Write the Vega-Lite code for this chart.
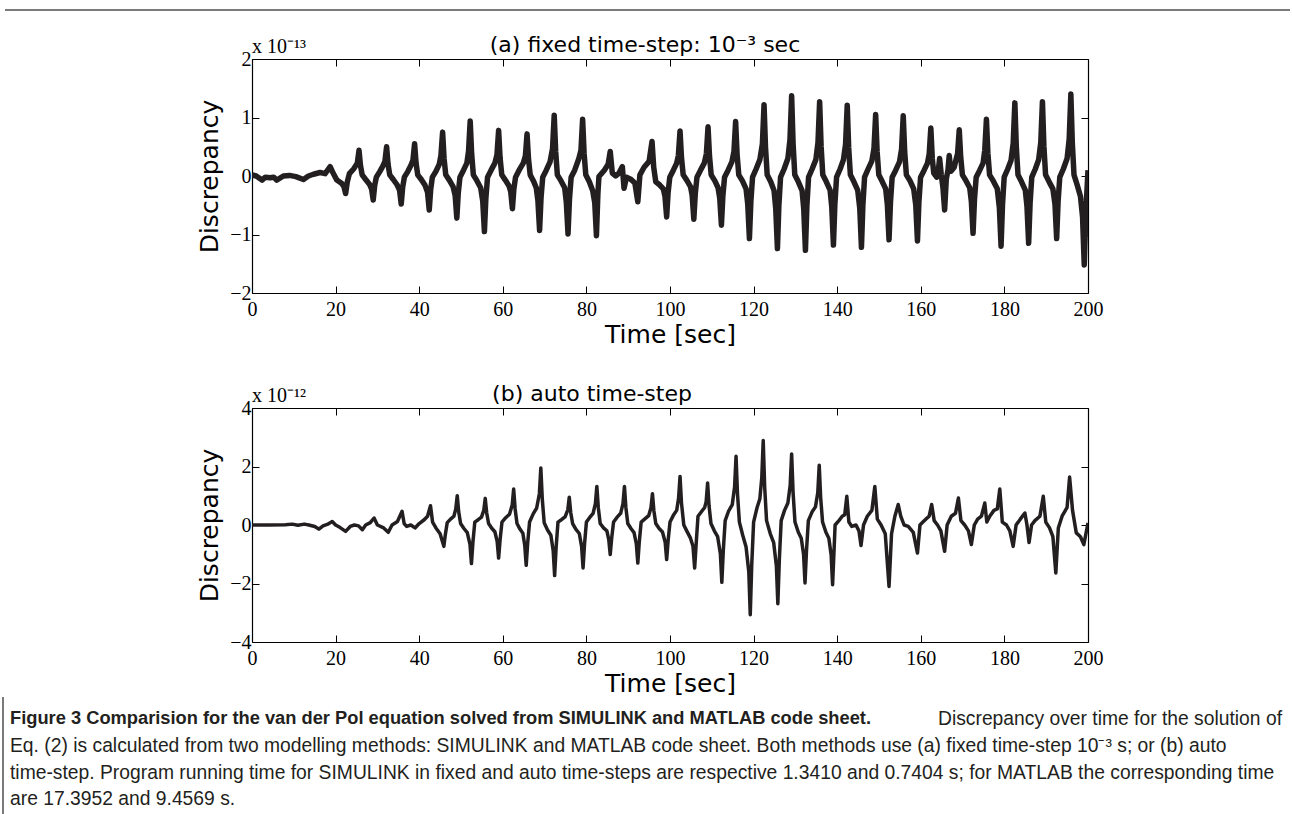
{
  "$schema": "https://vega.github.io/schema/vega-lite/v6.json",
  "padding": {"left": 2, "top": 9, "right": 0, "bottom": 0},
  "background": "white",
  "config": {"view": {"stroke": null}, "font": "DejaVu Sans"},
  "bounds": "flush",
  "spacing": 115,
  "datasets": {
    "fixed": [
      {"t":0,"v":0.02},{"t":1,"v":0},{"t":2.4,"v":-0.07},{"t":3.2,"v":-0.02},{"t":4.3,"v":-0.03},{"t":5.2,"v":-0.02},{"t":5.9,"v":-0.07},{"t":7.5,"v":0},{"t":9,"v":0.01},{"t":10.5,"v":-0.01},{"t":12.3,"v":-0.06},{"t":13.5,"v":0},{"t":14.7,"v":0.03},{"t":16.3,"v":0.06},{"t":17.5,"v":0.04},{"t":18.7,"v":0.16},{"t":19.4,"v":0.05},{"t":20.3,"v":-0.07},{"t":21.5,"v":-0.13},{"t":22,"v":-0.18},{"t":22.4,"v":-0.3},{"t":22.8,"v":-0.1},{"t":23.3,"v":0.04},{"t":24.3,"v":0.12},{"t":25.2,"v":0.22},{"t":25.6,"v":0.44},
      {"t":25.95,"v":0.18},{"t":26.35,"v":0.02},{"t":27.2,"v":-0.06},{"t":28.1,"v":-0.14},{"t":28.6,"v":-0.22},{"t":29,"v":-0.41},
      {"t":29.35,"v":-0.16},{"t":29.75,"v":-0.02},{"t":30.6,"v":0.08},{"t":31.3,"v":0.17},{"t":31.8,"v":0.25},{"t":32.2,"v":0.5},
      {"t":32.55,"v":0.2},{"t":32.95,"v":0.02},{"t":33.8,"v":-0.06},{"t":34.7,"v":-0.15},{"t":35.3,"v":-0.24},{"t":35.7,"v":-0.48},
      {"t":36.05,"v":-0.19},{"t":36.45,"v":-0.02},{"t":37.3,"v":0.08},{"t":38,"v":0.18},{"t":38.5,"v":0.27},{"t":38.9,"v":0.55},
      {"t":39.25,"v":0.22},{"t":39.65,"v":0.02},{"t":40.5,"v":-0.06},{"t":41.4,"v":-0.16},{"t":42,"v":-0.28},{"t":42.4,"v":-0.58},
      {"t":42.75,"v":-0.23},{"t":43.15,"v":-0.02},{"t":44,"v":0.08},{"t":44.8,"v":0.2},{"t":45.2,"v":0.35},{"t":45.6,"v":0.75},
      {"t":45.95,"v":0.3},{"t":46.35,"v":0.02},{"t":47.2,"v":-0.07},{"t":48.1,"v":-0.18},{"t":48.6,"v":-0.33},{"t":49,"v":-0.72},
      {"t":49.35,"v":-0.29},{"t":49.75,"v":-0.02},{"t":50.6,"v":0.1},{"t":51.4,"v":0.22},{"t":51.8,"v":0.42},{"t":52.2,"v":0.94},
      {"t":52.55,"v":0.38},{"t":52.95,"v":0.02},{"t":53.8,"v":-0.08},{"t":54.7,"v":-0.2},{"t":55.2,"v":-0.43},{"t":55.6,"v":-0.95},
      {"t":55.95,"v":-0.38},{"t":56.35,"v":-0.02},{"t":57.2,"v":0.1},{"t":58.1,"v":0.22},{"t":58.6,"v":0.36},{"t":59,"v":0.78},
      {"t":59.35,"v":0.31},{"t":59.75,"v":0.02},{"t":60.6,"v":-0.07},{"t":61.5,"v":-0.17},{"t":61.9,"v":-0.27},{"t":62.3,"v":-0.56},
      {"t":62.65,"v":-0.22},{"t":63.05,"v":-0.02},{"t":63.9,"v":0.1},{"t":64.9,"v":0.22},{"t":65.4,"v":0.34},{"t":65.8,"v":0.72},
      {"t":66.15,"v":0.29},{"t":66.55,"v":0.02},{"t":67.3,"v":-0.08},{"t":68,"v":-0.2},{"t":68.4,"v":-0.42},{"t":68.8,"v":-0.93},
      {"t":69.15,"v":-0.37},{"t":69.55,"v":-0.02},{"t":70.4,"v":0.1},{"t":71.3,"v":0.24},{"t":71.9,"v":0.47},{"t":72.3,"v":1.04},
      {"t":72.65,"v":0.42},{"t":73.05,"v":0.02},{"t":73.9,"v":-0.08},{"t":74.8,"v":-0.2},{"t":75.2,"v":-0.45},{"t":75.6,"v":-0.99},
      {"t":75.95,"v":-0.4},{"t":76.35,"v":-0.02},{"t":77.2,"v":0.1},{"t":78.2,"v":0.3},{"t":78.7,"v":0.44},{"t":79.1,"v":0.97},
      {"t":79.45,"v":0.39},{"t":79.85,"v":0.02},{"t":80.7,"v":-0.1},{"t":81.5,"v":-0.25},{"t":82,"v":-0.46},{"t":82.4,"v":-1.02},
      {"t":82.75,"v":-0.3},{"t":83,"v":-0.01},{"t":84.3,"v":0.1},{"t":85.2,"v":0.2},{"t":85.7,"v":0.42},{"t":86.2,"v":0.05},{"t":87,"v":0},{"t":87.8,"v":0.05},{"t":88.6,"v":0.16},{"t":89,"v":-0.21},{"t":89.6,"v":-0.02},{"t":90.5,"v":-0.05},{"t":91.6,"v":-0.12},{"t":92.3,"v":-0.44},{"t":92.8,"v":0.02},{"t":93.8,"v":0.15},{"t":95,"v":0.25},{"t":95.7,"v":0.59},{"t":96.1,"v":0.15},{"t":96.6,"v":-0.1},{"t":97.5,"v":-0.15},{"t":98.4,"v":-0.22},{"t":98.8,"v":-0.35},{"t":99.2,"v":-0.7},
      {"t":99.55,"v":-0.28},{"t":99.95,"v":-0.02},{"t":100.8,"v":0.1},{"t":101.6,"v":0.22},{"t":102,"v":0.35},{"t":102.4,"v":0.77},
      {"t":102.75,"v":0.31},{"t":103.15,"v":0.02},{"t":104,"v":-0.07},{"t":104.9,"v":-0.18},{"t":105.3,"v":-0.33},{"t":105.7,"v":-0.74},
      {"t":106.05,"v":-0.3},{"t":106.45,"v":-0.02},{"t":107.3,"v":0.1},{"t":108.2,"v":0.22},{"t":108.7,"v":0.38},{"t":109.1,"v":0.84},
      {"t":109.45,"v":0.34},{"t":109.85,"v":0.02},{"t":110.7,"v":-0.08},{"t":111.5,"v":-0.2},{"t":111.9,"v":-0.38},{"t":112.3,"v":-0.84},
      {"t":112.65,"v":-0.34},{"t":113.05,"v":-0.02},{"t":113.9,"v":0.1},{"t":114.8,"v":0.24},{"t":115.3,"v":0.42},{"t":115.7,"v":0.93},
      {"t":116.05,"v":0.37},{"t":116.45,"v":0.02},{"t":117.3,"v":-0.08},{"t":118.2,"v":-0.22},{"t":118.6,"v":-0.48},{"t":119,"v":-1.07},
      {"t":119.35,"v":-0.43},{"t":119.75,"v":-0.02},{"t":120.6,"v":0.12},{"t":121.5,"v":0.28},{"t":122.1,"v":0.55},{"t":122.5,"v":1.22},
      {"t":122.85,"v":0.49},{"t":123.25,"v":0.02},{"t":124.1,"v":-0.1},{"t":124.9,"v":-0.25},{"t":125.3,"v":-0.56},{"t":125.7,"v":-1.24},
      {"t":126.05,"v":-0.5},{"t":126.45,"v":-0.02},{"t":127.3,"v":0.12},{"t":128.2,"v":0.3},{"t":128.7,"v":0.62},{"t":129.1,"v":1.37},
      {"t":129.45,"v":0.55},{"t":129.85,"v":0.02},{"t":130.7,"v":-0.1},{"t":131.6,"v":-0.25},{"t":132,"v":-0.57},{"t":132.4,"v":-1.27},
      {"t":132.75,"v":-0.51},{"t":133.15,"v":-0.02},{"t":134,"v":0.12},{"t":134.9,"v":0.28},{"t":135.4,"v":0.57},{"t":135.8,"v":1.27},
      {"t":136.15,"v":0.51},{"t":136.55,"v":0.02},{"t":137.4,"v":-0.1},{"t":138.3,"v":-0.24},{"t":138.7,"v":-0.53},{"t":139.1,"v":-1.18},
      {"t":139.45,"v":-0.47},{"t":139.85,"v":-0.02},{"t":140.7,"v":0.12},{"t":141.5,"v":0.28},{"t":142,"v":0.54},{"t":142.4,"v":1.21},
      {"t":142.75,"v":0.48},{"t":143.15,"v":0.02},{"t":144,"v":-0.1},{"t":144.9,"v":-0.24},{"t":145.4,"v":-0.55},{"t":145.8,"v":-1.22},
      {"t":146.15,"v":-0.49},{"t":146.55,"v":-0.02},{"t":147.4,"v":0.12},{"t":148.3,"v":0.26},{"t":148.8,"v":0.47},{"t":149.2,"v":1.05},
      {"t":149.55,"v":0.42},{"t":149.95,"v":0.02},{"t":150.8,"v":-0.1},{"t":151.6,"v":-0.22},{"t":152,"v":-0.49},{"t":152.4,"v":-1.09},
      {"t":152.75,"v":-0.44},{"t":153.15,"v":-0.02},{"t":154,"v":0.1},{"t":154.9,"v":0.24},{"t":155.4,"v":0.46},{"t":155.8,"v":1.03},
      {"t":156.15,"v":0.41},{"t":156.55,"v":0.02},{"t":157.4,"v":-0.08},{"t":158.3,"v":-0.22},{"t":158.8,"v":-0.5},{"t":159.2,"v":-1.11},
      {"t":159.55,"v":-0.44},{"t":159.95,"v":-0.02},{"t":160.8,"v":0.1},{"t":161.6,"v":0.22},{"t":162,"v":0.37},{"t":162.4,"v":0.82},
      {"t":162.75,"v":0.3},{"t":163.1,"v":0.05},{"t":163.8,"v":-0.02},{"t":164.2,"v":0.1},{"t":164.5,"v":0.3},{"t":164.9,"v":0.02},{"t":165.3,"v":-0.2},{"t":165.7,"v":-0.58},{"t":166.1,"v":-0.05},{"t":166.5,"v":0.1},{"t":166.8,"v":0.35},{"t":167.2,"v":0.08},{"t":168,"v":0.15},{"t":168.5,"v":0.3},{"t":168.8,"v":0.38},{"t":169.2,"v":0.79},
      {"t":169.55,"v":0.32},{"t":169.95,"v":0.02},{"t":170.8,"v":-0.08},{"t":171.7,"v":-0.2},{"t":172.1,"v":-0.44},{"t":172.5,"v":-0.98},
      {"t":172.85,"v":-0.39},{"t":173.25,"v":-0.02},{"t":174.1,"v":0.1},{"t":174.9,"v":0.22},{"t":175.3,"v":0.44},{"t":175.7,"v":0.97},
      {"t":176.05,"v":0.39},{"t":176.45,"v":0.02},{"t":177.3,"v":-0.08},{"t":178.3,"v":-0.22},{"t":178.8,"v":-0.54},{"t":179.2,"v":-1.2},
      {"t":179.55,"v":-0.48},{"t":179.95,"v":-0.02},{"t":180.8,"v":0.12},{"t":181.6,"v":0.27},{"t":182.1,"v":0.56},{"t":182.5,"v":1.25},
      {"t":182.85,"v":0.5},{"t":183.25,"v":0.02},{"t":184.1,"v":-0.1},{"t":185,"v":-0.24},{"t":185.4,"v":-0.52},{"t":185.8,"v":-1.15},
      {"t":186.15,"v":-0.46},{"t":186.55,"v":-0.02},{"t":187.4,"v":0.12},{"t":188.2,"v":0.28},{"t":188.7,"v":0.57},{"t":189.1,"v":1.27},
      {"t":189.45,"v":0.51},{"t":189.85,"v":0.02},{"t":190.7,"v":-0.1},{"t":191.6,"v":-0.22},{"t":192.1,"v":-0.48},{"t":192.5,"v":-1.07},
      {"t":192.85,"v":-0.43},{"t":193.25,"v":-0.02},{"t":194.1,"v":0.12},{"t":195,"v":0.3},{"t":195.5,"v":0.63},{"t":195.9,"v":1.4},
      {"t":196.25,"v":0.56},{"t":196.65,"v":0.02},{"t":197.4,"v":-0.15},{"t":198.2,"v":-0.35},{"t":198.7,"v":-0.7},{"t":199.1,"v":-1.52},
      {"t":199.5,"v":-0.6},{"t":200,"v":0.1}
    ],
    "auto": [
      {"t":0,"v":0},{"t":4,"v":0},{"t":8,"v":0.01},{"t":9.6,"v":0.03},{"t":11,"v":-0.01},{"t":12.5,"v":0.03},{"t":13.6,"v":0},{"t":15,"v":-0.05},{"t":16,"v":-0.14},{"t":17,"v":-0.03},{"t":18,"v":0.02},{"t":19.2,"v":0.12},{"t":20,"v":0},{"t":21,"v":-0.08},{"t":22.4,"v":-0.22},{"t":23.5,"v":-0.05},{"t":24.5,"v":0},{"t":25.5,"v":-0.03},{"t":26.4,"v":-0.16},{"t":27.2,"v":0},{"t":28.3,"v":0.08},{"t":29.2,"v":0.24},{"t":30,"v":0},{"t":31.5,"v":-0.1},{"t":32.6,"v":-0.25},{"t":33.5,"v":0},{"t":34.8,"v":0.12},{"t":35.9,"v":0.47},{"t":36.4,"v":0.05},{"t":37,"v":-0.05},{"t":38,"v":0},{"t":39,"v":-0.1},{"t":40,"v":0.05},{"t":41.2,"v":0.18},{"t":42,"v":0.3},{"t":42.7,"v":0.66},{"t":43.2,"v":0.1},{"t":44,"v":-0.1},{"t":45,"v":-0.3},{"t":45.9,"v":-0.73},
      {"t":46.25,"v":-0.33},{"t":46.7,"v":0.08},{"t":47.5,"v":0.2},{"t":48.3,"v":0.3},{"t":48.75,"v":0.55},{"t":49.1,"v":1.0},
      {"t":49.45,"v":0.45},{"t":49.9,"v":0.05},{"t":50.7,"v":-0.12},{"t":51.5,"v":-0.26},{"t":52.15,"v":-0.66},{"t":52.5,"v":-1.32},
      {"t":52.85,"v":-0.59},{"t":53.3,"v":0.1},{"t":54.1,"v":0.18},{"t":54.9,"v":0.27},{"t":55.45,"v":0.5},{"t":55.8,"v":0.91},
      {"t":56.15,"v":0.41},{"t":56.6,"v":0.05},{"t":57.4,"v":-0.12},{"t":58.1,"v":-0.23},{"t":58.65,"v":-0.56},{"t":59,"v":-1.13},
      {"t":59.35,"v":-0.51},{"t":59.8,"v":0.1},{"t":60.7,"v":0.25},{"t":61.6,"v":0.37},{"t":62.25,"v":0.68},{"t":62.6,"v":1.23},
      {"t":62.95,"v":0.55},{"t":63.4,"v":0.05},{"t":64.1,"v":-0.14},{"t":64.8,"v":-0.28},{"t":65.25,"v":-0.69},{"t":65.6,"v":-1.38},
      {"t":65.95,"v":-0.62},{"t":66.4,"v":0.1},{"t":67.3,"v":0.39},{"t":68.1,"v":0.58},{"t":68.75,"v":1.07},{"t":69.1,"v":1.95},
      {"t":69.45,"v":0.88},{"t":69.9,"v":0.08},{"t":70.7,"v":-0.17},{"t":71.5,"v":-0.35},{"t":72.05,"v":-0.87},{"t":72.4,"v":-1.73},
      {"t":72.75,"v":-0.78},{"t":73.2,"v":0.1},{"t":74.1,"v":0.19},{"t":74.9,"v":0.28},{"t":75.55,"v":0.52},{"t":75.9,"v":0.95},
      {"t":76.25,"v":0.43},{"t":76.7,"v":0.05},{"t":77.5,"v":-0.15},{"t":78.3,"v":-0.29},{"t":78.85,"v":-0.73},{"t":79.2,"v":-1.47},
      {"t":79.55,"v":-0.66},{"t":80,"v":0.1},{"t":80.8,"v":0.26},{"t":81.6,"v":0.4},{"t":82.15,"v":0.73},{"t":82.5,"v":1.32},
      {"t":82.85,"v":0.59},{"t":83.3,"v":0.05},{"t":84.1,"v":-0.1},{"t":84.9,"v":-0.2},{"t":85.35,"v":-0.5},{"t":85.7,"v":-1.01},
      {"t":86.05,"v":-0.45},{"t":86.5,"v":0.1},{"t":87.3,"v":0.26},{"t":88.2,"v":0.4},{"t":88.75,"v":0.73},{"t":89.1,"v":1.32},
      {"t":89.45,"v":0.59},{"t":89.9,"v":0.05},{"t":90.7,"v":-0.13},{"t":91.4,"v":-0.26},{"t":91.95,"v":-0.65},{"t":92.3,"v":-1.3},
      {"t":92.65,"v":-0.58},{"t":93.1,"v":0.1},{"t":94,"v":0.21},{"t":94.9,"v":0.32},{"t":95.45,"v":0.59},{"t":95.8,"v":1.07},
      {"t":96.15,"v":0.48},{"t":96.6,"v":0.05},{"t":97.4,"v":-0.12},{"t":98.2,"v":-0.24},{"t":98.85,"v":-0.59},{"t":99.2,"v":-1.18},
      {"t":99.55,"v":-0.53},{"t":100,"v":0.1},{"t":100.8,"v":0.33},{"t":101.6,"v":0.5},{"t":102.05,"v":0.91},{"t":102.4,"v":1.66},
      {"t":102.75,"v":0.75},{"t":103.3,"v":0.0},{"t":104,"v":-0.2},{"t":104.9,"v":-0.45},{"t":105.5,"v":-0.73},{"t":105.9,"v":-1.47},
      {"t":106.25,"v":-0.66},{"t":106.7,"v":0.3},{"t":107.6,"v":0.47},{"t":108.3,"v":0.6},{"t":108.65,"v":0.8},{"t":109,"v":1.44},
      {"t":109.35,"v":0.65},{"t":109.8,"v":0.05},{"t":110.6,"v":-0.2},{"t":111.4,"v":-0.4},{"t":112.05,"v":-0.98},{"t":112.4,"v":-1.96},
      {"t":112.75,"v":-0.88},{"t":113.2,"v":0.15},{"t":114,"v":0.47},{"t":114.9,"v":0.7},{"t":115.45,"v":1.3},{"t":115.8,"v":2.35},
      {"t":116.15,"v":1.06},{"t":116.6,"v":0.1},{"t":117.4,"v":-0.35},{"t":118.2,"v":-0.75},{"t":118.85,"v":-1.6},{"t":119.2,"v":-3.07},
      {"t":119.55,"v":-1.38},{"t":120,"v":0.1},{"t":120.8,"v":0.58},{"t":121.5,"v":0.9},{"t":121.95,"v":1.6},{"t":122.3,"v":2.89},
      {"t":122.65,"v":1.3},{"t":123.1,"v":0.15},{"t":124,"v":-0.3},{"t":124.8,"v":-0.6},{"t":125.45,"v":-1.4},{"t":125.8,"v":-2.69},
      {"t":126.15,"v":-1.21},{"t":126.6,"v":0.15},{"t":127.4,"v":0.5},{"t":128.2,"v":0.75},{"t":128.75,"v":1.35},{"t":129.1,"v":2.43},
      {"t":129.45,"v":1.1},{"t":129.9,"v":0.1},{"t":130.7,"v":-0.25},{"t":131.4,"v":-0.45},{"t":131.95,"v":-1.0},{"t":132.3,"v":-1.98},
      {"t":132.65,"v":-0.89},{"t":133.1,"v":0.15},{"t":134,"v":0.45},{"t":134.8,"v":0.62},{"t":135.35,"v":1.1},{"t":135.7,"v":2.04},
      {"t":136.05,"v":0.92},{"t":136.5,"v":0.1},{"t":137.3,"v":-0.25},{"t":138,"v":-0.45},{"t":138.55,"v":-1.02},{"t":138.9,"v":-2.04},
      {"t":139.5,"v":0},{"t":140.3,"v":0.13},{"t":141.2,"v":0.3},{"t":141.8,"v":0.35},{"t":142.3,"v":0.98},{"t":142.8,"v":0.1},{"t":143.5,"v":-0.05},{"t":144.5,"v":0},{"t":145.2,"v":-0.2},{"t":145.7,"v":-0.7},{"t":146.3,"v":0},{"t":147.2,"v":0.3},{"t":148.3,"v":0.5},{"t":149,"v":1.32},{"t":149.6,"v":0.2},{"t":150.5,"v":0},{"t":151.5,"v":-0.3},{"t":152.4,"v":-2.1},{"t":153,"v":-0.3},{"t":153.8,"v":0.3},{"t":154.6,"v":0.7},{"t":155.2,"v":0.3},{"t":156,"v":0},{"t":157,"v":-0.05},{"t":158.2,"v":-0.25},{"t":159.2,"v":-0.96},{"t":159.8,"v":0},{"t":160.5,"v":0.1},{"t":161.2,"v":0.2},{"t":162,"v":0.3},{"t":162.6,"v":0.7},{"t":163.2,"v":0.15},{"t":164,"v":0},{"t":164.8,"v":-0.2},{"t":165.7,"v":-0.9},{"t":166.3,"v":0},{"t":167.3,"v":0.3},{"t":168.3,"v":0.4},{"t":169,"v":0.92},{"t":169.6,"v":0.15},{"t":170.5,"v":0},{"t":171.4,"v":-0.2},{"t":172.1,"v":-0.67},{"t":172.8,"v":0},{"t":173.6,"v":0.2},{"t":174.5,"v":0.3},{"t":175.3,"v":0.75},{"t":175.8,"v":0.1},{"t":176.5,"v":0.3},{"t":177.5,"v":0.5},{"t":178.3,"v":0.55},{"t":178.9,"v":1.23},{"t":179.5,"v":0.1},{"t":180.5,"v":0},{"t":181.3,"v":-0.2},{"t":182.1,"v":-0.73},{"t":182.8,"v":0},{"t":183.8,"v":0.2},{"t":184.9,"v":0.41},{"t":185.4,"v":0},{"t":185.9,"v":-0.6},{"t":186.5,"v":0},{"t":187.3,"v":0.15},{"t":188.5,"v":0.3},{"t":189.3,"v":0.98},{"t":189.9,"v":0.1},{"t":190.8,"v":-0.1},{"t":191.6,"v":-0.4},{"t":192.3,"v":-1.64},{"t":192.9,"v":-0.1},{"t":193.8,"v":0.3},{"t":195,"v":0.6},{"t":195.6,"v":1.64},{"t":196.3,"v":0.5},{"t":197.2,"v":-0.27},{"t":198.2,"v":-0.4},{"t":199,"v":-0.67},{"t":199.5,"v":-0.3},{"t":200,"v":0.07}
    ],
    "scaleA": [{"label": "x 10⁻¹³"}],
    "scaleB": [{"label": "x 10⁻¹²"}],
    "captionBold": [{"line": 1, "text": "Figure 3 Comparision for the van der Pol equation solved from SIMULINK and MATLAB code sheet."}],
    "captionRight": [{"line": 1, "text": "Discrepancy over time for the solution of"}],
    "captionBody": [
      {"line": 2, "text": "Eq. (2) is calculated from two modelling methods: SIMULINK and MATLAB code sheet. Both methods use (a) fixed time-step 10⁻³ s; or (b) auto"},
      {"line": 3, "text": "time-step. Program running time for SIMULINK in fixed and auto time-steps are respective 1.3410 and 0.7404 s; for MATLAB the corresponding time"},
      {"line": 4, "text": "are 17.3952 and 9.4569 s."}
    ]
  },
  "vconcat": [
    {
      "width": 836,
      "height": 234,
      "title": {"text": "(a) fixed time-step: 10⁻³ sec", "font": "DejaVu Sans", "fontSize": 22, "fontWeight": "normal", "color": "black", "anchor": "middle", "frame": "group", "dx": -25, "offset": -20},
      "resolve": {"axis": {"x": "independent", "y": "independent"}},
      "layer": [
        {
          "data": {"name": "fixed"},
          "mark": {"type": "line", "color": "#231f20", "strokeWidth": 5.5, "strokeJoin": "round", "clip": true},
          "encoding": {
            "x": {"field": "t", "type": "quantitative", "scale": {"domain": [0, 200], "nice": false, "zero": false},
              "axis": {"orient": "bottom", "values": [0,20,40,60,80,100,120,140,160,180,200], "tickSize": -7, "tickColor": "black", "domainColor": "black", "domainWidth": 1.2, "grid": false, "labelFont": "Liberation Serif", "labelFontSize": 20, "labelColor": "black", "labelPadding": 13, "labelFlush": false, "labelOverlap": false, "title": "Time [sec]", "titleFont": "DejaVu Sans", "titleFontSize": 25, "titleFontWeight": "normal", "titleColor": "black", "titlePadding": 3}},
            "y": {"field": "v", "type": "quantitative", "scale": {"domain": [-2, 2], "nice": false, "zero": false},
              "axis": {"orient": "left", "values": [-2,-1,0,1,2], "tickSize": -7, "tickColor": "black", "domainColor": "black", "domainWidth": 1.2, "grid": false, "labelFont": "Liberation Serif", "labelFontSize": 20, "labelColor": "black", "labelPadding": 8, "labelFlush": false, "labelOverlap": false, "title": "Discrepancy", "titleFont": "DejaVu Sans", "titleFontSize": 25, "titleFontWeight": "normal", "titleColor": "black", "titlePadding": 7}}
          }
        },
        {
          "data": {"name": "scaleA"},
          "mark": {"type": "text", "align": "left", "baseline": "alphabetic", "dy": -6, "font": "Liberation Serif", "fontSize": 20, "color": "black"},
          "encoding": {
            "x": {"datum": 0, "type": "quantitative", "axis": {"orient": "top", "values": [0,20,40,60,80,100,120,140,160,180,200], "tickSize": -7, "tickColor": "black", "labels": false, "title": null, "domainColor": "black", "domainWidth": 1.2, "grid": false}},
            "y": {"datum": 2, "type": "quantitative", "axis": {"orient": "right", "values": [-2,-1,0,1,2], "tickSize": -7, "tickColor": "black", "labels": false, "title": null, "domainColor": "black", "domainWidth": 1.2, "grid": false}},
            "text": {"field": "label"}
          }
        }
      ]
    },
    {
      "width": 836,
      "height": 234,
      "title": {"text": "(b) auto time-step", "font": "DejaVu Sans", "fontSize": 22, "fontWeight": "normal", "color": "black", "anchor": "middle", "frame": "group", "dx": -78, "offset": -20},
      "resolve": {"axis": {"x": "independent", "y": "independent"}},
      "layer": [
        {
          "data": {"name": "auto"},
          "mark": {"type": "line", "color": "#231f20", "strokeWidth": 3.5, "strokeJoin": "round", "clip": true},
          "encoding": {
            "x": {"field": "t", "type": "quantitative", "scale": {"domain": [0, 200], "nice": false, "zero": false},
              "axis": {"orient": "bottom", "values": [0,20,40,60,80,100,120,140,160,180,200], "tickSize": -7, "tickColor": "black", "domainColor": "black", "domainWidth": 1.2, "grid": false, "labelFont": "Liberation Serif", "labelFontSize": 20, "labelColor": "black", "labelPadding": 13, "labelFlush": false, "labelOverlap": false, "title": "Time [sec]", "titleFont": "DejaVu Sans", "titleFontSize": 25, "titleFontWeight": "normal", "titleColor": "black", "titlePadding": 3}},
            "y": {"field": "v", "type": "quantitative", "scale": {"domain": [-4, 4], "nice": false, "zero": false},
              "axis": {"orient": "left", "values": [-4,-2,0,2,4], "tickSize": -7, "tickColor": "black", "domainColor": "black", "domainWidth": 1.2, "grid": false, "labelFont": "Liberation Serif", "labelFontSize": 20, "labelColor": "black", "labelPadding": 8, "labelFlush": false, "labelOverlap": false, "title": "Discrepancy", "titleFont": "DejaVu Sans", "titleFontSize": 25, "titleFontWeight": "normal", "titleColor": "black", "titlePadding": 7}}
          }
        },
        {
          "data": {"name": "scaleB"},
          "mark": {"type": "text", "align": "left", "baseline": "alphabetic", "dy": -6, "font": "Liberation Serif", "fontSize": 20, "color": "black"},
          "encoding": {
            "x": {"datum": 0, "type": "quantitative", "axis": {"orient": "top", "values": [0,20,40,60,80,100,120,140,160,180,200], "tickSize": -7, "tickColor": "black", "labels": false, "title": null, "domainColor": "black", "domainWidth": 1.2, "grid": false}},
            "y": {"datum": 4, "type": "quantitative", "axis": {"orient": "right", "values": [-4,-2,0,2,4], "tickSize": -7, "tickColor": "black", "labels": false, "title": null, "domainColor": "black", "domainWidth": 1.2, "grid": false}},
            "text": {"field": "label"}
          }
        }
      ]
    },
    {
      "width": 836,
      "height": 107,
      "layer": [
        {
          "data": {"name": "captionBold"},
          "mark": {"type": "text", "align": "left", "baseline": "middle", "x": -242, "font": "Liberation Sans", "fontSize": 18.3, "fontWeight": "bold", "color": "#231f20"},
          "encoding": {"y": {"field": "line", "type": "quantitative", "scale": {"domain": [2.42, 6.42], "reverse": true, "nice": false, "zero": false}, "axis": null}, "text": {"field": "text"}}
        },
        {
          "data": {"name": "captionRight"},
          "mark": {"type": "text", "align": "right", "baseline": "middle", "x": 1030, "font": "Liberation Sans", "fontSize": 19.3, "color": "#231f20"},
          "encoding": {"y": {"field": "line", "type": "quantitative", "axis": null}, "text": {"field": "text"}}
        },
        {
          "data": {"name": "captionBody"},
          "mark": {"type": "text", "align": "left", "baseline": "middle", "x": -242, "font": "Liberation Sans", "fontSize": 19.3, "color": "#231f20"},
          "encoding": {"y": {"field": "line", "type": "quantitative", "axis": null}, "text": {"field": "text"}}
        },
        {
          "data": {"values": [{}]},
          "mark": {"type": "rule", "color": "#7a7a7a", "strokeWidth": 2},
          "encoding": {"x": {"value": -249}, "y": {"value": -60}, "y2": {"value": 67}}
        },
        {
          "data": {"values": [{}]},
          "mark": {"type": "rule", "color": "#7a7a7a", "strokeWidth": 2},
          "encoding": {"x": {"value": -247}, "x2": {"value": 1038}, "y": {"value": -747}}
        }
      ]
    }
  ]
}
